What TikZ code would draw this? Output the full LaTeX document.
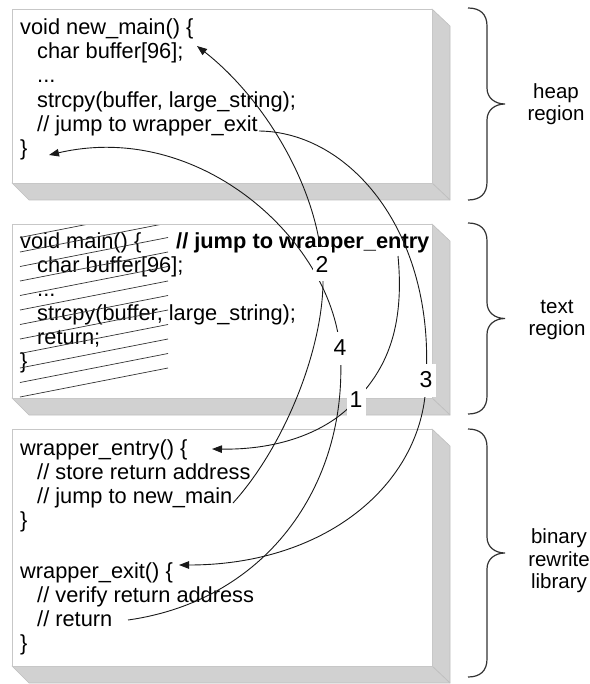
\documentclass[tikz,border=0pt]{standalone}
\usepackage{fontspec}
\setmainfont{Liberation Sans}
\usetikzlibrary{arrows.meta}

% curly brace on the right of a memory region: #1 top y, #2 bottom y
\newcommand\regionbrace[2]{%
  \pgfmathsetmacro\bm{(#1+#2)/2}%
  \draw[bracepen] (468,#1) .. controls (480,#1) and (487,#1+6) .. (487,#1+18)
    -- (487,\bm-16) .. controls (487,\bm-6) and (495,\bm) .. (505,\bm)
    .. controls (495,\bm) and (487,\bm+6) .. (487,\bm+16)
    -- (487,#2-18) .. controls (487,#2-6) and (480,#2) .. (468,#2);}

\begin{document}
\begin{tikzpicture}[x=1pt,y=-1pt,
  code/.style={anchor=base west, inner sep=0pt, font=\fontsize{21.8}{24}\selectfont},
  sidetext/.style={anchor=base, inner sep=0pt, font=\fontsize{20.5}{23}\selectfont},
  face/.style={fill=white, draw=black!22, line width=0.9pt},
  bevel/.style={fill=black!18, draw=black!25, line width=0.6pt, line join=round},
  hatch/.style={draw=black!80, line width=0.7pt},
  flow/.style={draw=black!90, line width=0.9pt, -{Triangle[length=10pt,width=7.5pt]}},
  tag/.style={fill=white, inner sep=0pt, minimum width=19pt, minimum height=33pt,
              font=\fontsize{23}{23}\selectfont},
  bracepen/.style={draw=black!80, line width=1.2pt},
]
\useasboundingbox (0,0) rectangle (589,684);

% three memory regions drawn as bevelled slabs
\foreach \t/\b in {9/183, 224/398, 429/666} {
  \draw[bevel] (432,\t) -- (450,\t+17) -- (450,\b+17) -- (432,\b) -- cycle;
  \draw[bevel] (12,\b) -- (432,\b) -- (450,\b+17) -- (29,\b+17) -- cycle;
  \draw[face] (12,\t) rectangle (432,\b);
}

% heap region: relocated main
\node[code] (h1) at (20,35)  {void new\_main() \{};
\node[code] (h2) at (37,59)  {char buffer[96];};
\node[code] (h3) at (37,83)  {...};
\node[code] (h4) at (37,108) {strcpy(buffer, large\_string);};
\node[code] (h5) at (37,132) {// jump to wrapper\_exit};
\node[code] (h6) at (20,156) {\}};

% text region: original main, overwritten
\node[code] (t1) at (20,248)  {void main() \{};
\node[code] (t2) at (37,272)  {char buffer[96];};
\node[code] (t3) at (37,296)  {...};
\node[code] (t4) at (37,320)  {strcpy(buffer, large\_string);};
\node[code] (t5) at (37,344)  {return;};
\node[code] (t6) at (20,368)  {\}};
\node[code, font=\fontsize{21.8}{24}\selectfont\bfseries] (tj) at (176,248) {// jump to wrapper\_entry};

% hatching over the dead code
\begin{scope}
  \clip (14,226) rectangle (172,398);
  \foreach \k in {0,...,13}
    \draw[hatch] (20,397-14.5*\k) -- (168,368-14.5*\k);
\end{scope}

% binary rewrite library
\node[code] (b1) at (20,455) {wrapper\_entry() \{};
\node[code] (b2) at (37,479) {// store return address};
\node[code] (b3) at (37,503) {// jump to new\_main};
\node[code] (b4) at (20,527) {\}};
\node[code] (b5) at (20,578) {wrapper\_exit() \{};
\node[code] (b6) at (37,602) {// verify return address};
\node[code] (b7) at (37,626) {// return};
\node[code] (b8) at (20,650) {\}};

% end points of the control transfers
\coordinate (s1) at (398,256);  \coordinate (m1) at (356,400); \coordinate (e1) at (212,449);
\coordinate (s2) at (233,503);  \coordinate (m2) at (322,262); \coordinate (e2) at (197,46);
\coordinate (s3) at (259,131);  \coordinate (m3) at (426,380); \coordinate (e3) at (179,565);
\coordinate (s4) at (128,620);  \coordinate (m4) at (340,348); \coordinate (e4) at (49,155);

% 1: main -> wrapper_entry
\draw[flow] (s1) .. controls (405,330) and (385,370) .. (m1)
                 .. controls (335,425) and (290,450) .. (e1);
% 2: wrapper_entry -> new_main
\draw[flow] (s2) .. controls (290,440) and (330,330) .. (m2)
                 .. controls (315,180) and (260,95) .. (e2);
% 3: new_main -> wrapper_exit
\draw[flow] (s3) .. controls (350,132) and (435,232) .. (m3)
                 .. controls (425,480) and (330,565) .. (e3);
% 4: wrapper_exit -> back into new_main
\draw[flow] (s4) .. controls (270,600) and (350,480) .. (m4)
                 .. controls (330,240) and (200,120) .. (e4);

% step numbers
\node[tag] (n1) at (m1) {1};
\node[tag] (n2) at ([yshift=-2pt]m2) {2};
\node[tag] (n3) at (m3) {3};
\node[tag] (n4) at (m4) {4};

% region braces and their names
\regionbrace{8}{200}
\regionbrace{223}{414}
\regionbrace{429}{677}
\node[sidetext] (heapA) at (556,99)  {heap};
\node[sidetext] (heapB) at (556,121) {region};
\node[sidetext] (textA) at (557,313) {text};
\node[sidetext] (textB) at (557,335) {region};
\node[sidetext] (libA)  at (559,543) {binary};
\node[sidetext] (libB)  at (559,566) {rewrite};
\node[sidetext] (libC)  at (559,588) {library};
\end{tikzpicture}
\end{document}
